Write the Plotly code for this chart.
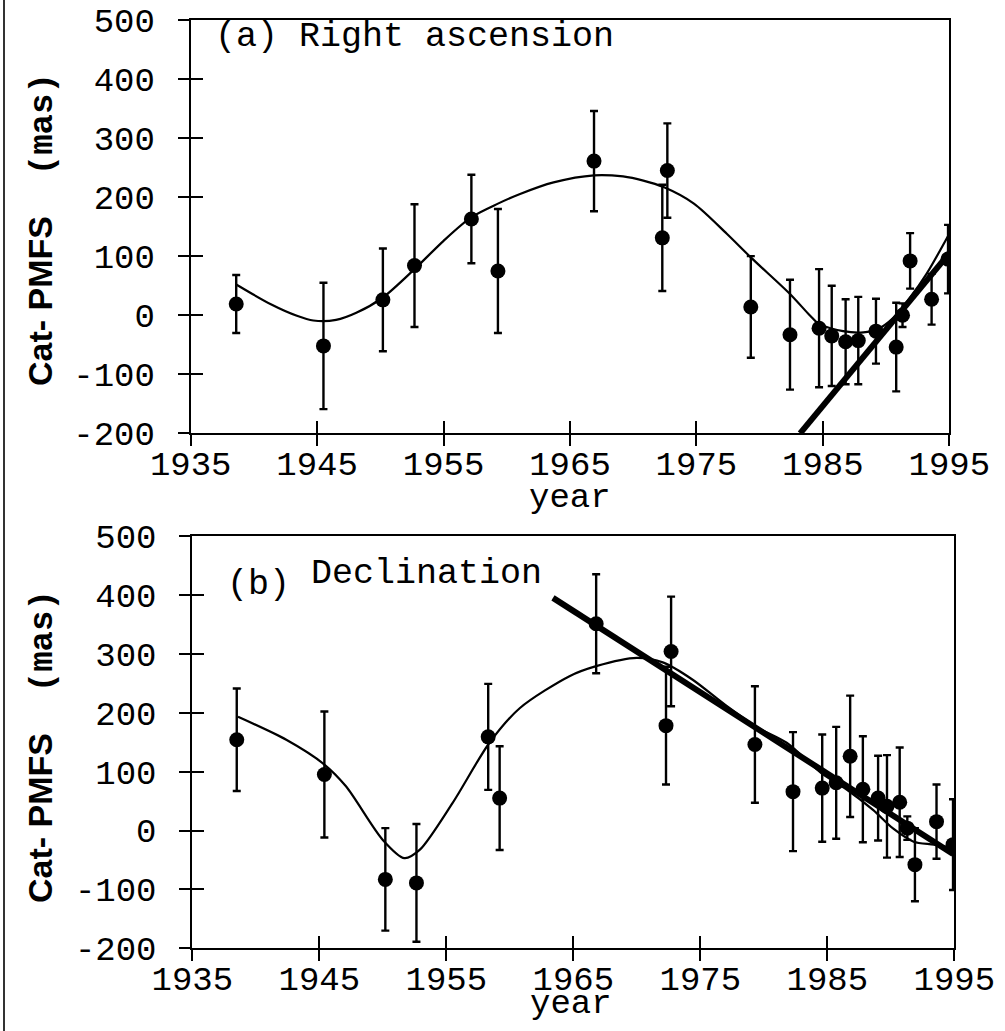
import plotly.graph_objects as go

W, H = 1005, 1031

# ---------------- data: panel (a) Right ascension ----------------
years_a = [1938.6, 1945.5, 1950.2, 1952.7, 1957.2, 1959.3, 1966.9, 1972.3, 1972.7,
           1979.3, 1982.4, 1984.7, 1985.7, 1986.8, 1987.8, 1989.2, 1990.8, 1991.3,
           1991.9, 1993.6, 1994.9]
vals_a = [19, -52, 26, 84, 163, 75, 261, 131, 245,
          14, -33, -22, -35, -45, -43, -27, -54, 0,
          92, 27, 95]
errs_a = [49, 107, 87, 104, 75, 105, 85, 90, 80,
          86, 93, 100, 85, 72, 74, 55, 75, 20,
          47, 43, 58]

curve_a_years = [1938.6, 1941.3, 1943.4, 1944.7, 1946.5, 1948.1, 1950.2, 1952.7, 1955.0,
                 1957.2, 1959.3, 1961.0, 1963.7, 1966.9, 1969.2, 1970.8, 1972.4, 1974.8,
                 1977.4, 1979.3, 1982.4, 1984.0, 1984.7, 1986.6, 1988.2, 1989.3, 1990.6,
                 1991.9, 1993.2, 1995.0]
curve_a_vals = [52, 19, -1, -9, -8, 4, 30, 78, 126,
                166, 189, 205, 225, 237, 235, 228, 217, 189,
                138, 98, 36, -1, -15, -27, -29, -24, -4,
                30, 70, 138]

trend_a_years = [1983.2, 1995.0]
trend_a_vals = [-200, 105]

# ---------------- data: panel (b) Declination ----------------
years_b = [1938.5, 1945.4, 1950.2, 1952.65, 1958.3, 1959.2, 1966.8, 1972.3, 1972.7,
           1979.3, 1982.3, 1984.6, 1985.7, 1986.8, 1987.8, 1989.0, 1989.7, 1990.7,
           1991.3, 1991.9, 1993.6, 1994.9]
vals_b = [154, 95, -83, -89, 159, 55, 351, 178, 304,
          146, 66, 72, 81, 126, 70, 55, 41, 48,
          4, -58, 15, -24]
errs_b = [87, 107, 87, 100, 90, 88, 84, 100, 93,
          99, 101, 91, 95, 103, 90, 72, 87, 93,
          20, 62, 63, 77]

curve_b_years = [1938.6, 1942.4, 1945.4, 1947.1, 1950.0, 1951.7, 1952.9, 1955.5, 1958.4,
                 1960.8, 1964.7, 1966.8, 1970.0, 1972.1, 1974.4, 1977.1, 1979.5, 1981.8,
                 1984.5, 1986.5, 1988.6, 1990.2, 1991.8, 1993.4, 1994.9]
curve_b_vals = [193, 154, 112, 75, -16, -47, -33, 47, 149,
                208, 262, 279, 293, 285, 256, 211, 175, 149,
                98, 70, 35, 3, -19, -24, -30]

trend_b_years = [1963.4, 1994.9]
trend_b_vals = [395, -40]

x_ticks = [1935, 1945, 1955, 1965, 1975, 1985, 1995]
y_ticks = [-200, -100, 0, 100, 200, 300, 400, 500]

# ---------------- layout geometry (pixels) ----------------
def px_x(p):
    return p / W

def px_y(p):
    return 1 - p / H

MONO = "Liberation Mono, Courier New, monospace"
FS = 34

fig = go.Figure()

def add_panel(xa, ya, yrs, vals, errs, cy, cv, ty, tv):
    fig.add_trace(go.Scatter(x=cy, y=cv, mode="lines",
                             line=dict(color="black", width=2.2, shape="spline", smoothing=0.8),
                             xaxis=xa, yaxis=ya, showlegend=False, hoverinfo="skip"))
    fig.add_trace(go.Scatter(x=ty, y=tv, mode="lines", line=dict(color="black", width=6),
                             xaxis=xa, yaxis=ya, showlegend=False, hoverinfo="skip"))
    fig.add_trace(go.Scatter(x=yrs, y=vals, mode="markers",
                             marker=dict(color="black", size=15),
                             error_y=dict(type="data", array=errs, visible=True, color="black",
                                          thickness=2.4, width=4),
                             xaxis=xa, yaxis=ya, showlegend=False))

add_panel("x", "y", years_a, vals_a, errs_a, curve_a_years, curve_a_vals, trend_a_years, trend_a_vals)
add_panel("x2", "y2", years_b, vals_b, errs_b, curve_b_years, curve_b_vals, trend_b_years, trend_b_vals)

# empty traces so that the overlay tick axes (crossing tick marks) are drawn
for xa, ya in [("x3", "y"), ("x5", "y"), ("x", "y3"), ("x", "y5"),
               ("x4", "y2"), ("x6", "y2"), ("x2", "y4"), ("x2", "y6")]:
    fig.add_trace(go.Scatter(x=[], y=[], xaxis=xa, yaxis=ya, showlegend=False, hoverinfo="skip"))

common_x = dict(range=[1935, 1995], tickvals=x_ticks, ticktext=[str(t) for t in x_ticks],
                showgrid=False, zeroline=False, tickcolor="black", tickwidth=2, ticklen=12,
                automargin=False)
common_y = dict(range=[-200, 500], tickvals=y_ticks, ticktext=[str(t) for t in y_ticks],
                showgrid=False, zeroline=False, tickcolor="black", tickwidth=2, ticklen=12,
                automargin=False)

dom_xa = [px_x(190.7), px_x(949.3)]
dom_ya = [px_y(433.3), px_y(20)]
dom_xb = [px_x(192.3), px_x(954.3)]
dom_yb = [px_y(948.3), px_y(536)]

tf = dict(family=MONO, size=FS, color="black")

def main_x(dom, anchor):
    return dict(**common_x, domain=dom, anchor=anchor, ticks="", showline=True, linewidth=2,
                linecolor="black", mirror=True, tickfont=tf, ticklabelstandoff=-1)

def main_y(dom, anchor):
    return dict(**common_y, domain=dom, anchor=anchor, ticks="", showline=True, linewidth=2,
                linecolor="black", mirror=True, tickfont=tf, ticklabelstandoff=27)

def over_x(base, anchor, side):
    return dict(**common_x, overlaying=base, anchor=anchor, side="bottom", ticks=side,
                showticklabels=False, showline=False)

def over_y(base, anchor, side):
    return dict(**common_y, overlaying=base, anchor=anchor, side="left", ticks=side,
                showticklabels=False, showline=False)

fig.update_layout(
    width=W, height=H,
    margin=dict(l=0, r=0, t=0, b=0),
    paper_bgcolor="white", plot_bgcolor="white",
    showlegend=False,
    xaxis=main_x(dom_xa, "y"),
    yaxis=main_y(dom_ya, "x"),
    xaxis2=main_x(dom_xb, "y2"),
    yaxis2=main_y(dom_yb, "x2"),
    xaxis3=over_x("x", "y", "outside"),
    xaxis5=over_x("x", "y", "inside"),
    yaxis3=over_y("y", "x", "outside"),
    yaxis5=over_y("y", "x", "inside"),
    xaxis4=over_x("x2", "y2", "outside"),
    xaxis6=over_x("x2", "y2", "inside"),
    yaxis4=over_y("y2", "x2", "outside"),
    yaxis6=over_y("y2", "x2", "inside"),
)

ylab = ('<span style="font-family:Liberation Sans Narrow, Arial Narrow, Liberation Sans;font-weight:bold">Cat- PMFS</span>'
        '<span style="font-family:Liberation Mono, Courier New, monospace;font-weight:bold">  (mas)</span>')

ann = [
    dict(text="(a) Right ascension", x=px_x(213), y=px_y(37), xanchor="left", yanchor="middle",
         font=dict(family=MONO, size=35, color="black")),
    dict(text="(b)", x=px_x(225), y=px_y(585), xanchor="left", yanchor="middle",
         font=dict(family=MONO, size=35, color="black")),
    dict(text="Declination", x=px_x(309), y=px_y(574), xanchor="left", yanchor="middle",
         font=dict(family=MONO, size=35, color="black")),
    dict(text="year", x=px_x(570), y=px_y(498), xanchor="center", yanchor="middle",
         font=dict(family=MONO, size=FS, color="black")),
    dict(text="year", x=px_x(571), y=px_y(1004), xanchor="center", yanchor="middle",
         font=dict(family=MONO, size=FS, color="black")),
    dict(text=ylab, x=px_x(41), y=px_y(230), xanchor="center", yanchor="middle", textangle=-90,
         font=dict(size=34, color="black")),
    dict(text=ylab, x=px_x(41), y=px_y(747), xanchor="center", yanchor="middle", textangle=-90,
         font=dict(size=34, color="black")),
]
for a in ann:
    a.update(xref="paper", yref="paper", showarrow=False)
fig.update_layout(annotations=ann)

fig.add_shape(type="line", xref="paper", yref="paper", x0=px_x(4), x1=px_x(4), y0=0, y1=1,
              line=dict(color="#333333", width=2))

fig.write_html("out.html", config={"displayModeBar": False},
               post_script="document.body.style.margin='0';document.body.style.overflow='hidden';")
